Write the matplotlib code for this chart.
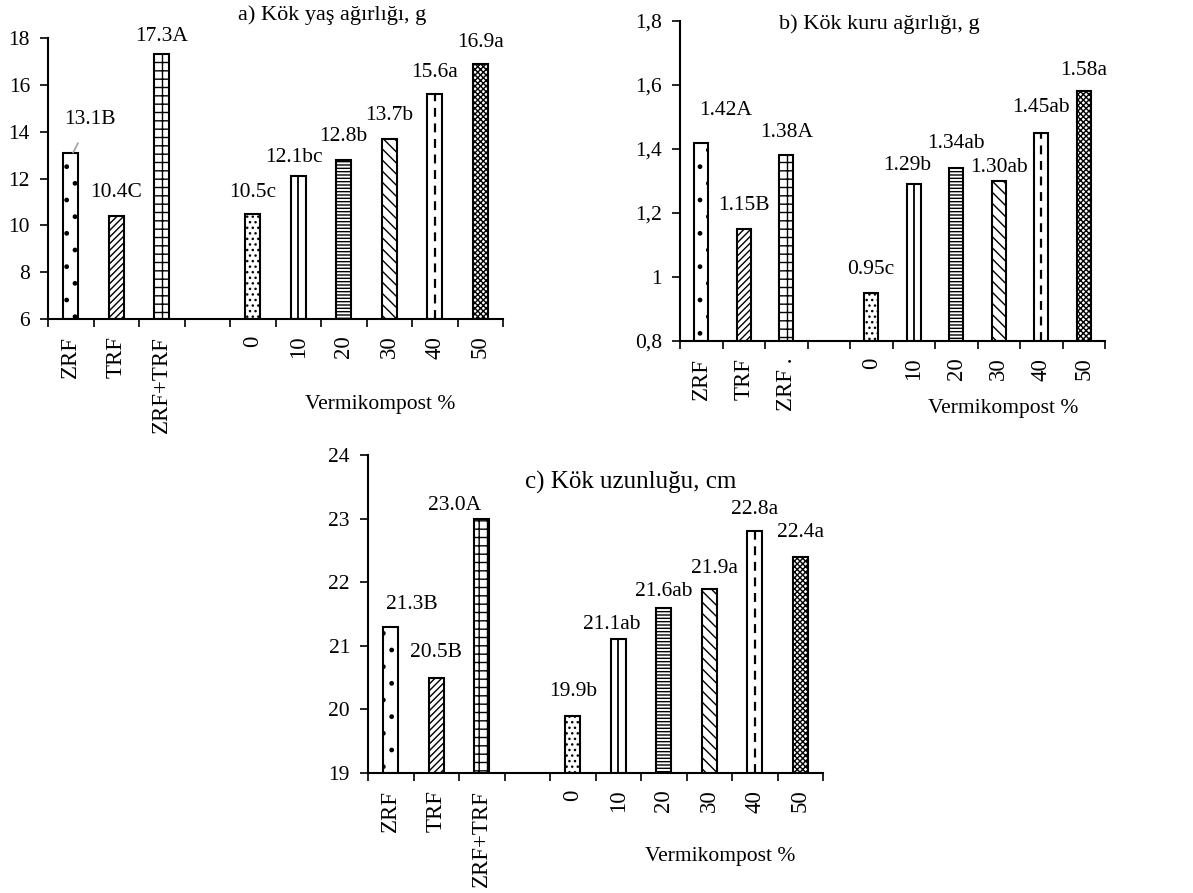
import matplotlib
matplotlib.use('Agg')
import matplotlib.pyplot as plt
import numpy as np

plt.rcParams['font.family'] = ['Liberation Serif', 'DejaVu Serif']
plt.rcParams['hatch.linewidth'] = 1.0
plt.rcParams['hatch.color'] = 'black'

# categories (index 3 is the empty gap between fertiliser and vermicompost groups)
categories = ['ZRF', 'TRF', 'ZRF+TRF', '', '0', '10', '20', '30', '40', '50']
categories_b = ['ZRF', 'TRF', 'ZRF .', '', '0', '10', '20', '30', '40', '50']

fresh_weight = [13.1, 10.4, 17.3, np.nan, 10.5, 12.1, 12.8, 13.7, 15.6, 16.9]
fresh_letters = ['B', 'C', 'A', '', 'c', 'bc', 'b', 'b', 'a', 'a']

dry_weight = [1.42, 1.15, 1.38, np.nan, 0.95, 1.29, 1.34, 1.30, 1.45, 1.58]
dry_letters = ['A', 'B', 'A', '', 'c', 'b', 'ab', 'ab', 'ab', 'a']

root_length = [21.3, 20.5, 23.0, np.nan, 19.9, 21.1, 21.6, 21.9, 22.8, 22.4]
length_letters = ['B', 'B', 'A', '', 'b', 'ab', 'ab', 'a', 'a', 'a']

# bar fill patterns, one per category
hatches = ['.', '/////', '++', None, '...', None, '-----', '\\\\\\', None, 'xxxxxx']

# label offsets from bar top (pixels, dx / dy to text centre)
off_a = [(17, 33), (0, 23), (0, 18), (0, 0), (0, 21), (-4, 19), (0, 23), (0, 23), (0, 22), (0, 21)]
off_b = [(24, 32), (0, 24), (0, 23), (0, 0), (0, 23), (-7, 19), (0, 25), (0, 13), (0, 25), (0, 21)]
off_c = [(21, 22), (0, 25), (-27, 13), (0, 0), (0, 24), (-6, 15), (0, 16), (5, 20), (0, 22), (0, 24)]

FS = 15.5
W, H = 1193, 893
fig = plt.figure(figsize=(W / 100, H / 100), dpi=100)


def panel(rect, values, letters, labels, ylim, yticks, fmt, offsets, title, title_xy,
          title_fs, xlab_xy, comma=False):
    ax = fig.add_axes(rect)
    x = np.arange(len(values)) + 0.5
    lo = ylim[0]
    for i, v in enumerate(values):
        if np.isnan(v):
            continue
        ax.bar(x[i], v - lo, bottom=lo, width=0.32, color='white', edgecolor='black',
               linewidth=1.5, hatch=hatches[i], zorder=2)
        if labels[i] == '10':
            ax.plot([x[i], x[i]], [lo, v], color='black', lw=1.3, zorder=3)
        if labels[i] == '40':
            ax.plot([x[i], x[i]], [lo, v], color='black', lw=1.6, ls=(0, (4, 3)), zorder=3)
        dx, dy = offsets[i]
        txt = fmt.format(v) + letters[i]
        if i == 0 and title.startswith('a'):
            ax.annotate(txt, xy=(x[i] + 0.05, v), xytext=(dx * 0.72, dy * 0.72),
                        textcoords='offset points', ha='center', va='center', fontsize=FS,
                        arrowprops=dict(arrowstyle='-', color='#a0a0a0', lw=1.2,
                                        shrinkA=9, shrinkB=0))
        else:
            ax.annotate(txt, xy=(x[i], v), xytext=(dx * 0.72, dy * 0.72),
                        textcoords='offset points', ha='center', va='center', fontsize=FS)
    ax.set_xlim(0, len(values))
    ax.set_ylim(*ylim)
    ax.set_yticks(yticks)
    if comma:
        ax.set_yticklabels([('%g' % t).replace('.', ',') for t in yticks])
    ax.set_xticks(np.arange(len(values) + 1))
    ax.set_xticklabels([])
    ax.set_xticks(x, labels=labels, minor=True, rotation=90)
    ax.tick_params(axis='x', which='major', direction='out', length=6, width=1.2)
    ax.tick_params(axis='x', which='minor', length=0, pad=12, labelsize=16.5)
    ax.tick_params(axis='y', direction='out', length=6, width=1.2, pad=7, labelsize=FS)
    for s in ['top', 'right']:
        ax.spines[s].set_visible(False)
    for s in ['left', 'bottom']:
        ax.spines[s].set_linewidth(1.5)
    fig.text(title_xy[0], title_xy[1], title, ha='center', va='center', fontsize=title_fs)
    fig.text(xlab_xy[0], xlab_xy[1], 'Vermikompost %', ha='center', va='center', fontsize=FS)
    return ax


panel([48 / W, 1 - 319 / H, 455 / W, 281 / H], fresh_weight, fresh_letters, categories,
      (6, 18), np.arange(6, 19, 2), '{:.1f}', off_a,
      'a) Kök yaş ağırlığı, g', (332 / W, 1 - 15 / H), 16, (380 / W, 1 - 405 / H))

panel([680 / W, 1 - 341 / H, 425 / W, 320 / H], dry_weight, dry_letters, categories_b,
      (0.8, 1.8), [0.8, 1.0, 1.2, 1.4, 1.6, 1.8], '{:.2f}', off_b,
      'b) Kök kuru ağırlığı, g', (879 / W, 1 - 24 / H), 16, (1003 / W, 1 - 408 / H),
      comma=True)

panel([368 / W, 1 - 773 / H, 455 / W, 318 / H], root_length, length_letters, categories,
      (19, 24), np.arange(19, 25, 1), '{:.1f}', off_c,
      'c) Kök uzunluğu, cm', (631 / W, 1 - 482 / H), 18, (720 / W, 1 - 857 / H))

fig.savefig('out.png', dpi=100)
